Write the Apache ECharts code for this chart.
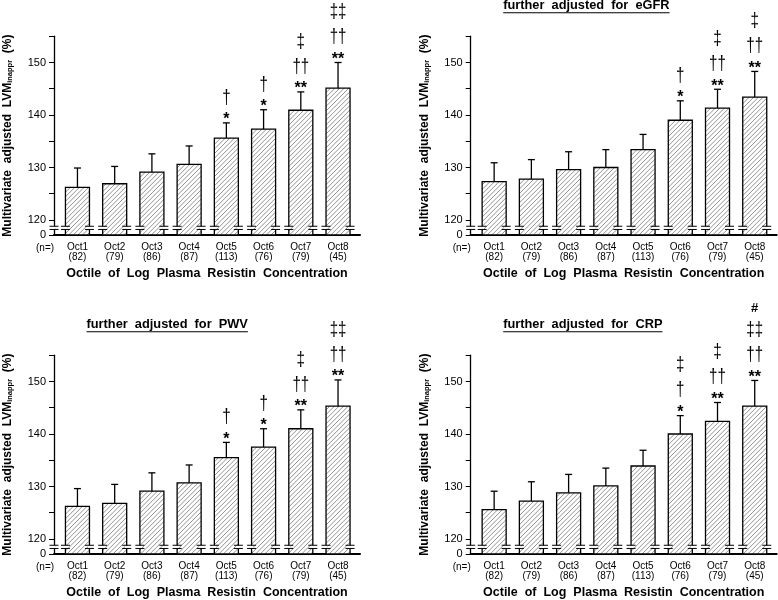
<!DOCTYPE html>
<html>
<head>
<meta charset="utf-8">
<script src="https://cdn.jsdelivr.net/npm/echarts@6/dist/echarts.min.js"></script>
<style>
  html, body { margin: 0; padding: 0; background: #fff; }
  #chart { width: 778px; height: 600px; }
</style>
</head>
<body>
<div id="chart"></div>
<script>
// octiles and group sizes
const categories = ['Oct1', 'Oct2', 'Oct3', 'Oct4', 'Oct5', 'Oct6', 'Oct7', 'Oct8'];
const counts = [82, 79, 86, 87, 113, 76, 79, 45];
const yTickValues = [120, 130, 140, 150];
const yTickLabels = ['0', '120', '130', '140', '150'];

const panelTitles = ['', 'further adjusted for eGFR', 'further adjusted for PWV', 'further adjusted for CRP'];

// adjusted LVM inappr (%) mean and mean + SE
const meanBase = [126.2, 126.9, 129.1, 130.6, 135.6, 137.3, 140.9, 145.1];
const upperBase = [129.9, 130.2, 132.6, 134.1, 138.5, 141.0, 144.4, 150.0];
const marksBase = ['', '', '', '', '*|†', '*|†', '**|††|‡', '**|††|‡‡'];

const meanEGFR = [127.3, 127.8, 129.6, 130.0, 133.4, 139.0, 141.3, 143.4];
const upperEGFR = [130.9, 131.5, 133.0, 133.4, 136.3, 142.7, 144.9, 148.3];
const marksEGFR = ['', '', '', '', '', '*|†', '**|††|‡', '**|††|‡'];

const meanPWV = [126.2, 126.8, 129.1, 130.7, 135.5, 137.5, 141.0, 145.3];
const upperPWV = [129.6, 130.4, 132.6, 134.1, 138.4, 141.0, 144.6, 150.3];
const marksPWV = ['', '', '', '', '*|†', '*|†', '**|††|‡', '**|††|‡‡'];

const meanCRP = [125.6, 127.2, 128.8, 130.1, 133.9, 140.0, 142.4, 145.3];
const upperCRP = [129.1, 130.9, 132.3, 133.5, 136.9, 143.5, 146.0, 150.2];
const marksCRP = ['', '', '', '', '', '*|†|‡', '**|††|‡', '**|††|‡‡|#'];

const panels = [
  { mean: meanBase, upper: upperBase, marks: marksBase, title: panelTitles[0] },
  { mean: meanEGFR, upper: upperEGFR, marks: marksEGFR, title: panelTitles[1] },
  { mean: meanPWV, upper: upperPWV, marks: marksPWV, title: panelTitles[2] },
  { mean: meanCRP, upper: upperCRP, marks: marksCRP, title: panelTitles[3] }
];

// layout
const FONT = '"Liberation Sans", Arial, sans-serif';
const GRID_W = 306, GRID_H = 198.75;
const LEFTS = [54, 470.7, 54, 470.7];
const TOPS = [36.25, 36.25, 355.25, 355.25];
const Y_MIN = 117.14, Y_MAX = 155, BREAK_AT = 118.5;
const X_MIN = 0.37, X_MAX = 8.59;
const BAR_FRAC = 0.645;
const HATCH = 4.6;
const MARK_OFFSETS = [7, 25, 50, 72];

function markStyle(sym) {
  if (sym[0] === '*') return { font: 'bold 16px ' + FONT, dy: 4, sx: 1 };
  if (sym === '#') return { font: 'bold 13px ' + FONT, dy: 0, sx: 1 };
  return { font: '21px ' + FONT, dy: 0, sx: 0.72 };
}

function hatchLines(x0, y0, x1, y1) {
  const out = [];
  const cStart = Math.ceil((x0 + y0) / HATCH) * HATCH;
  for (let c = cStart; c < x1 + y1; c += HATCH) {
    const xa = Math.max(x0, c - y1);
    const xb = Math.min(x1, c - y0);
    if (xb <= xa) continue;
    out.push({
      type: 'line',
      shape: { x1: xa, y1: c - xa, x2: xb, y2: c - xb },
      style: { stroke: '#777', lineWidth: 0.8 },
      silent: true
    });
  }
  return out;
}

function breakMark(x, y) {
  return [
    { type: 'rect', shape: { x: x - 1.5, y: y - 1.4, width: 3, height: 2.8 }, style: { fill: '#fff' } },
    { type: 'line', shape: { x1: x - 4.5, y1: y - 1.6, x2: x + 4.5, y2: y - 1.6 }, style: { stroke: '#000', lineWidth: 1 } },
    { type: 'line', shape: { x1: x - 4.5, y1: y + 1.6, x2: x + 4.5, y2: y + 1.6 }, style: { stroke: '#000', lineWidth: 1 } }
  ];
}

function makeRender(panel) {
  return function (params, api) {
    const x = api.value(0);
    const mean = api.value(1);
    const upper = api.value(2);
    const halfW = api.size([1, 0])[0] * BAR_FRAC / 2;
    const top = api.coord([x, mean]);
    const cx = top[0];
    const yBase = api.coord([x, Y_MIN])[1];
    const yErr = api.coord([x, upper])[1];
    const yBrk = api.coord([x, BREAK_AT])[1];
    const x0 = cx - halfW, x1 = cx + halfW;
    let children = [
      { type: 'rect', shape: { x: x0, y: top[1], width: x1 - x0, height: yBase - top[1] }, style: { fill: '#fff' } }
    ];
    children = children.concat(hatchLines(x0, top[1], x1, yBase));
    children.push(
      { type: 'rect', shape: { x: x0, y: top[1], width: x1 - x0, height: yBase - top[1] }, style: { fill: 'none', stroke: '#000', lineWidth: 1.3 } },
      { type: 'line', shape: { x1: cx, y1: top[1], x2: cx, y2: yErr }, style: { stroke: '#000', lineWidth: 1.3 } },
      { type: 'line', shape: { x1: cx - 3.5, y1: yErr, x2: cx + 3.5, y2: yErr }, style: { stroke: '#000', lineWidth: 1.3 } }
    );
    children = children.concat(breakMark(x0, yBrk), breakMark(x1, yBrk));
    if (params.dataIndex === 0) {
      const ax = api.coord([X_MIN, BREAK_AT]);
      children = children.concat(breakMark(ax[0], ax[1]));
    }
    const marks = panel.marks[params.dataIndex];
    if (marks) {
      marks.split('|').forEach(function (sym, k) {
        const st = markStyle(sym);
        children.push({
          type: 'text',
          x: cx, y: yErr - MARK_OFFSETS[k] + st.dy,
          scaleX: st.sx,
          style: {
            text: sym, x: 0, y: 0,
            align: 'center', verticalAlign: 'middle', font: st.font, fill: '#000'
          }
        });
      });
    }
    return { type: 'group', children: children };
  };
}

const grids = [], xAxes = [], yAxes = [], series = [], graphics = [];
const measure = document.createElement('canvas').getContext('2d');

panels.forEach(function (panel, p) {
  grids.push({ left: LEFTS[p], top: TOPS[p], width: GRID_W, height: GRID_H });
  xAxes.push({
    gridIndex: p, type: 'value', min: X_MIN, max: X_MAX,
    name: 'Octile  of  Log  Plasma  Resistin  Concentration',
    nameLocation: 'middle', nameGap: 32,
    nameTextStyle: { fontFamily: FONT, fontWeight: 'bold', fontSize: 12.5, color: '#000' },
    axisLine: { lineStyle: { color: '#000', width: 2 } },
    axisTick: { show: false },
    splitLine: { show: false },
    axisLabel: {
      customValues: [1, 2, 3, 4, 5, 6, 7, 8],
      formatter: function (v) { return categories[v - 1] + '\n(' + counts[v - 1] + ')'; },
      fontFamily: FONT, fontSize: 10, color: '#000', lineHeight: 10, margin: 7
    }
  });
  yAxes.push({
    gridIndex: p, type: 'value', min: Y_MIN, max: Y_MAX,
    name: '{a|Multivariate  adjusted  LVM}{s|inappr}{a|  (%)}',
    nameLocation: 'middle', nameRotate: 90, nameGap: 40,
    nameTextStyle: {
      rich: {
        a: { fontFamily: FONT, fontWeight: 'bold', fontSize: 12, color: '#000', verticalAlign: 'bottom' },
        s: { fontFamily: FONT, fontWeight: 'bold', fontSize: 7.5, color: '#000', verticalAlign: 'bottom' }
      }
    },
    axisLine: { lineStyle: { color: '#000', width: 1.3 } },
    axisTick: { length: 5, lineStyle: { color: '#000', width: 1 }, customValues: [Y_MIN, 120, 125, 130, 135, 140, 145, 150, 155] },
    splitLine: { show: false },
    axisLabel: {
      customValues: [Y_MIN].concat(yTickValues),
      formatter: function (v) { return v < 119 ? yTickLabels[0] : yTickLabels[yTickValues.indexOf(v) + 1]; },
      fontFamily: FONT, fontSize: 11, color: '#000', margin: 8
    }
  });
  series.push({
    type: 'custom', xAxisIndex: p, yAxisIndex: p,
    renderItem: makeRender(panel),
    data: panel.mean.map(function (m, i) { return [i + 1, m, panel.upper[i]]; }),
    clip: false, silent: true
  });
  graphics.push({
    type: 'text', left: LEFTS[p] - 18, top: TOPS[p] + GRID_H + 8,
    style: { text: '(n=)', font: '10px ' + FONT, fill: '#000' }
  });
  if (panel.title) {
    const tfont = 'bold 12.8px ' + FONT;
    const ttext = panel.title.split(' ').join('  ');
    measure.font = tfont;
    const w = measure.measureText(ttext).width;
    const tx = LEFTS[p] + 32.5, ty = TOPS[p] - 37;
    graphics.push(
      { type: 'text', x: tx, y: ty, style: { text: ttext, font: tfont, fill: '#000' } },
      { type: 'line', shape: { x1: tx, y1: ty + 13.5, x2: tx + w, y2: ty + 13.5 }, style: { stroke: '#000', lineWidth: 1.2 } }
    );
  }
});

const chart = echarts.init(document.getElementById('chart'), null, { renderer: 'canvas' });
chart.setOption({
  animation: false,
  backgroundColor: '#fff',
  grid: grids,
  xAxis: xAxes,
  yAxis: yAxes,
  series: series,
  graphic: graphics
});
</script>
</body>
</html>
